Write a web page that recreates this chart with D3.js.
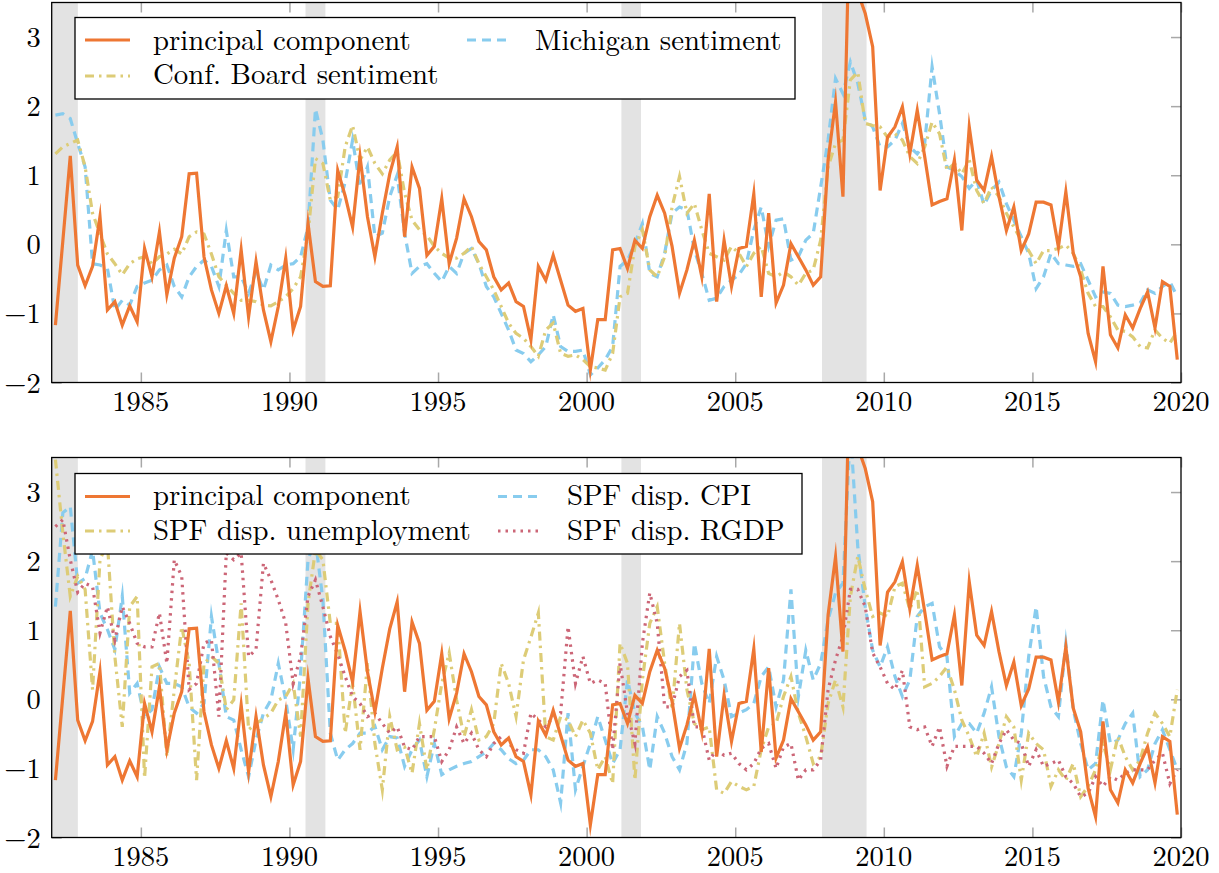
<!DOCTYPE html>
<html>
<head>
<meta charset="utf-8">
<script src="https://cdn.jsdelivr.net/npm/d3@7"></script>
<style>
  body { margin: 0; background: #fff; }
</style>
</head>
<body>
<div id="chart"></div>
<script>
// DATA #####################################################
// quarterly, 1982Q1 .. 2019Q4 (152 quarters)
const firstYear = 1982;
const nQuarters = 152;

const principal = [
  -1.17, 0.05, 1.28, -0.30, -0.60, -0.32, 0.40, -0.95, -0.83, -1.17,
  -0.89, -1.12, -0.06, -0.47, 0.18, -0.73, -0.20, 0.11, 1.02, 1.03,
  -0.18, -0.66, -1.00, -0.60, -1.00, -0.08, -1.05, -0.25, -0.95, -1.41,
  -0.90, -0.20, -1.24, -0.90, 0.30, -0.54, -0.61, -0.60, 1.07, 0.70,
  0.25, 1.27, 0.40, -0.18, 0.45, 1.02, 1.41, 0.11, 1.12, 0.81,
  -0.16, -0.03, 0.66, -0.28, 0.09, 0.66, 0.40, 0.04, -0.08, -0.47,
  -0.66, -0.56, -0.83, -0.90, -1.38, -0.32, -0.52, -0.16, -0.52, -0.88,
  -0.97, -0.93, -1.82, -1.09, -1.09, -0.08, -0.06, -0.35, 0.06, -0.06,
  0.40, 0.71, 0.45, -0.03, -0.71, -0.37, 0.06, -0.47, 0.73, -0.83,
  0.06, -0.61, -0.06, -0.03, 0.73, -0.76, 0.45, -0.85, -0.59, 0.01,
  -0.18, -0.37, -0.59, -0.47, 1.22, 2.06, 0.69, 5.20, 3.65, 3.34,
  2.86, 0.78, 1.55, 1.70, 1.99, 1.31, 1.94, 1.27, 0.57, 0.62,
  0.66, 1.22, 0.20, 1.70, 0.93, 0.78, 1.27, 0.69, 0.20, 0.54,
  -0.09, 0.15, 0.61, 0.61, 0.57, -0.04, 0.76, -0.13, -0.47, -1.29,
  -1.70, -0.32, -1.31, -1.50, -1.02, -1.21, -0.93, -0.69, -1.21, -0.54,
  -0.61, -1.67
];

const michigan = [
  1.87, 1.89, 1.82, 1.46, 1.12, -0.28, -0.30, -0.35, -0.95, -0.81,
  -0.88, -0.61, -0.56, -0.52, -0.37, -0.30, -0.61, -0.76, -0.47, -0.32,
  -0.23, -0.32, -0.61, 0.20, -0.47, -0.47, -0.71, -0.40, -0.66, -0.30,
  -0.37, -0.30, -0.28, -0.18, 0.25, 1.96, 1.51, 0.64, 0.50, 0.90,
  1.51, 0.83, 1.12, 0.11, 0.16, 0.69, 1.00, 0.16, -0.42, -0.32,
  -0.28, -0.42, -0.54, -0.32, -0.42, -0.13, -0.06, -0.28, -0.61, -0.76,
  -1.00, -1.24, -1.53, -1.58, -1.70, -1.60, -1.48, -1.02, -1.48, -1.55,
  -1.55, -1.53, -1.89, -1.79, -1.67, -1.48, -0.32, -0.23, 0.01, 0.30,
  -0.42, -0.47, -0.13, 0.45, 0.54, 0.50, -0.08, -0.42, -0.81, -0.78,
  -0.61, -0.52, -0.44, -0.28, 0.21, 0.54, -0.03, 0.35, 0.37, -0.23,
  -0.18, 0.06, 0.16, 0.83, 1.51, 2.40, 2.18, 2.64, 2.33, 1.80,
  1.70, 1.41, 1.41, 1.51, 1.75, 1.41, 1.31, 1.46, 2.57, 1.89,
  1.12, 1.07, 0.98, 0.81, 0.93, 0.57, 0.78, 0.90, 0.59, 0.35,
  0.11, -0.13, -0.64, -0.47, -0.13, -0.28, -0.30, -0.32, -0.28, -0.52,
  -0.76, -0.69, -0.71, -0.88, -0.90, -0.88, -0.85, -0.66, -0.71, -0.61,
  -0.54, -0.76
];

const confBoard = [
  1.31, 1.41, 1.46, 1.51, 1.12, 0.45, 0.15, -0.14, -0.28, -0.44,
  -0.28, -0.21, -0.18, -0.28, -0.18, -0.14, -0.07, -0.14, 0.11, 0.18,
  0.15, -0.14, -0.47, -0.59, -0.71, -0.81, -0.81, -0.83, -0.88, -0.89,
  -0.83, -0.76, -0.64, -0.47, 0.15, 1.24, 1.17, 0.64, 0.69, 1.41,
  1.72, 1.22, 1.41, 1.17, 1.02, 1.22, 1.34, 0.74, 0.35, 0.21,
  0.13, -0.03, -0.13, -0.20, -0.20, -0.13, -0.03, -0.28, -0.47, -0.66,
  -0.90, -1.14, -1.29, -1.36, -1.48, -1.62, -1.24, -1.14, -1.58, -1.62,
  -1.60, -1.67, -1.77, -1.79, -1.82, -1.58, -0.76, -0.71, -0.03, 0.21,
  -0.37, -0.47, -0.18, 0.54, 0.98, 0.45, 0.59, 0.21, -0.13, -0.18,
  -0.23, -0.03, -0.13, -0.32, -0.13, -0.03, -0.42, -0.47, -0.40, -0.47,
  -0.59, -0.42, -0.37, 0.06, 1.12, 1.46, 1.51, 2.38, 2.49, 1.75,
  1.72, 1.70, 1.55, 1.60, 1.51, 1.27, 1.17, 1.41, 1.77, 1.60,
  1.07, 1.17, 1.02, 1.22, 0.78, 0.59, 0.83, 0.69, 0.45, 0.25,
  0.06, -0.09, -0.28, -0.09, -0.09, -0.06, -0.01, -0.13, -0.37, -0.71,
  -0.90, -0.90, -1.05, -1.24, -1.26, -1.34, -1.48, -1.50, -1.24, -1.36,
  -1.43, -1.26
];

const spfCPI = [
  1.34, 2.70, 2.79, 1.68, 1.75, 2.16, 1.25, 1.01, 0.72, 1.49,
  0.09, 0.23, -0.25, -0.15, 0.47, 0.23, 0.23, 0.18, -0.11, -0.20,
  -0.06, 1.20, 0.52, -0.25, -0.30, -0.73, -1.12, -0.59, -0.20, -0.01,
  0.52, -0.01, -0.73, 0.38, 2.02, 2.30, 1.44, -0.49, -0.88, -0.73,
  -0.64, -0.49, -0.49, -0.39, -0.73, -0.54, -0.56, -0.97, -0.73, -0.59,
  -1.12, -0.64, -1.09, -1.02, -0.97, -0.93, -0.90, -0.83, -0.76, -0.64,
  -0.73, -0.86, -0.93, -0.88, -0.73, -0.73, -0.83, -1.02, -1.50, -0.20,
  -1.31, -0.97, -0.64, -0.25, -0.59, -0.93, -0.73, 0.28, -0.20, -0.39,
  -1.02, -0.25, -0.49, -0.83, -1.02, -0.64, 0.81, 0.23, -0.06, 0.62,
  0.28, -0.25, -0.20, -0.15, -0.06, 0.33, 0.47, -0.11, 0.28, 1.59,
  0.04, 0.71, 0.28, 0.52, 1.15, 1.54, 1.68, 3.90, 2.20, 1.34,
  0.71, 0.47, 0.76, 0.33, 0.04, 0.28, 1.20, 1.34, 1.39, 0.76,
  0.62, -0.54, -0.35, -0.35, -0.49, -0.20, 0.18, -0.54, -0.98, -1.12,
  -0.49, 0.62, 1.34, 0.33, -0.11, -0.25, 0.81, -0.15, -0.64, -1.02,
  -0.93, -0.01, -0.64, -0.59, -0.35, -0.20, -1.12, -1.02, -0.64, -0.44,
  -0.73, -1.02
];

const spfUnemp = [
  3.47, 2.41, 1.49, 1.78, 1.59, 0.14, 2.02, 2.26, 0.62, -0.40,
  1.34, 1.49, -1.14, 0.47, 0.52, -0.83, 0.14, 1.05, 0.52, -1.17,
  0.52, 0.62, 0.52, -0.15, -0.01, 1.39, -0.44, -0.35, -0.28, -0.20,
  -0.01, 0.04, 0.23, -0.54, 1.39, 2.16, 2.02, 1.10, 1.10, -0.49,
  0.23, -0.73, 0.52, -0.64, -1.31, -0.25, -0.73, -0.69, -1.07, -0.35,
  -1.02, -0.44, 0.23, 0.67, -0.01, -0.54, -0.15, -0.59, -0.54, -0.35,
  0.52, 0.23, -0.25, 0.57, 0.90, 1.25, -0.54, -0.59, -0.25, -0.30,
  -0.54, -0.30, -0.49, -1.02, -0.83, -1.22, 0.81, 0.52, -1.17, 0.28,
  1.10, 1.34, 0.52, -0.15, 1.10, 0.14, -0.35, -0.44, -0.40, -1.31,
  -1.36, -1.19, -1.26, -1.31, -1.26, -0.73, -0.40, -0.35, 0.04, 0.33,
  -0.20, -0.54, -0.93, -0.83, -0.06, 0.28, -0.11, 1.49, 2.07, 1.59,
  1.20, 1.25, 1.20, 1.63, 1.68, 1.30, 1.59, 0.18, 0.23, 0.33,
  0.47, 0.14, -0.30, -0.54, -0.83, -0.49, -0.98, -0.64, -0.25, -0.40,
  -1.17, -0.49, -0.64, -0.73, -1.26, -1.02, -1.17, -0.93, -1.41, -1.26,
  -1.02, -0.64, -1.02, -0.54, -0.83, -1.02, -0.88, -0.49, -0.20, -0.35,
  -0.54, 0.14
];

const spfRGDP = [
  2.50, 2.60, 2.02, 1.55, 1.68, 1.63, 0.96, 1.34, 0.86, 1.34,
  1.10, 0.81, 0.76, 0.76, 1.25, 0.52, 2.02, 1.78, 0.14, 0.23,
  0.81, 0.86, -0.25, 2.12, 2.02, 2.12, 0.62, 0.72, 1.97, 1.73,
  1.44, 1.10, 0.23, 0.62, 1.49, 1.73, 1.34, 0.91, 0.65, 0.33,
  0.04, -0.06, -0.25, -0.20, -0.35, -0.49, -0.40, -0.69, -0.73, -0.54,
  -0.54, -0.54, -0.90, -0.73, -0.40, -0.64, -0.49, -0.73, -0.83, -0.64,
  -0.54, -0.64, -0.73, -0.78, -0.20, -0.30, -0.40, -0.25, -0.20, 1.05,
  0.23, 0.62, 0.23, 0.28, 0.23, -0.73, 0.52, -0.20, -0.64, 0.81,
  1.54, 1.10, -0.11, -0.11, 0.33, 0.42, -0.40, -0.40, -0.88, -0.73,
  -0.81, -0.78, -0.93, -1.02, -0.93, -0.71, -0.64, -1.00, -0.69, -0.64,
  -1.17, -1.02, -1.02, -0.88, 0.14, 0.57, 0.91, 1.59, 1.59, 1.34,
  0.67, 0.47, 0.23, 0.14, 0.42, -0.40, -0.44, -0.40, -0.68, -0.40,
  -0.97, -0.68, -0.68, -0.68, -0.68, -0.78, -0.93, -0.64, -0.44, -0.59,
  -0.64, -0.97, -0.73, -0.97, -0.93, -0.88, -1.12, -1.22, -1.41, -1.36,
  -1.12, -1.26, -1.12, -1.17, -1.07, -1.02, -1.02, -1.02, -0.88, -0.78,
  -1.22, -1.02
];

// NBER recessions (start, end) in decimal years
const recessions = [[1981.5, 1982.88], [1990.54, 1991.21], [2001.17, 2001.83], [2007.92, 2009.42]];

const yearTicks = [1985, 1990, 1995, 2000, 2005, 2010, 2015, 2020];
const valueTicks = [-2, -1, 0, 1, 2, 3];

// CONSTANTS ################################################
const width = 1219;
const height = 873;
const left = 51.7;
const right = 1181;
const serif = '"Latin Modern Roman", "Liberation Serif", serif';

const colors = {
  principal: "#EE7733",
  blue: "#88CCEE",
  sand: "#DDCC77",
  rose: "#CC6677"
};

const styles = {
  solid:   { color: colors.principal, dash: null, w: 3.2 },
  dashed:  { color: colors.blue, dash: "9,6", w: 3.2 },
  dashdot: { color: colors.sand, dash: "9,5,2.5,5", w: 3.2 },
  dotted:  { color: colors.rose, dash: "2.5,5", w: 3.2 }
};

const quarters = d3.range(nQuarters).map(i => firstYear + (i + 0.5) / 4);

[principal, michigan, confBoard, spfCPI, spfUnemp, spfRGDP].forEach(a => {
  if (a.length !== nQuarters) throw new Error("bad length " + a.length);
});

const panels = [
  {
    top: 2.5, bottom: 382.5,
    series: [
      { values: michigan, style: "dashed" },
      { values: confBoard, style: "dashdot" },
      { values: principal, style: "solid" }
    ],
    legend: {
      x: 75, y: 17.5, w: 720, h: 81.5,
      rows: [{ y: 40, base: 50 }, { y: 76, base: 84 }],
      cols: [{ x: 85, tx: 153 }, { x: 467, tx: 535 }],
      items: [
        { label: "principal component", style: "solid", row: 0, col: 0 },
        { label: "Michigan sentiment", style: "dashed", row: 0, col: 1 },
        { label: "Conf. Board sentiment", style: "dashdot", row: 1, col: 0 }
      ]
    }
  },
  {
    top: 457.5, bottom: 837.5,
    series: [
      { values: spfCPI, style: "dashed" },
      { values: spfUnemp, style: "dashdot" },
      { values: spfRGDP, style: "dotted" },
      { values: principal, style: "solid" }
    ],
    legend: {
      x: 75, y: 473.5, w: 727, h: 80.5,
      rows: [{ y: 496.5, base: 505 }, { y: 531, base: 539.5 }],
      cols: [{ x: 85, tx: 153 }, { x: 498, tx: 567 }],
      items: [
        { label: "principal component", style: "solid", row: 0, col: 0 },
        { label: "SPF disp. CPI", style: "dashed", row: 0, col: 1 },
        { label: "SPF disp. unemployment", style: "dashdot", row: 1, col: 0 },
        { label: "SPF disp. RGDP", style: "dotted", row: 1, col: 1 }
      ]
    }
  }
];

// SVG ######################################################
const svg = d3.select("#chart")
  .append("svg")
  .attr("width", width)
  .attr("height", height);

const xScale = d3.scaleLinear()
  .domain([1982, 2020])
  .range([left, right]);

panels.forEach((p, k) => {
  const yScale = d3.scaleLinear()
    .domain([-2, 3.5])
    .range([p.bottom, p.top]);

  const g = svg.append("g");

  // clip for the plot area
  svg.append("clipPath")
    .attr("id", "clip" + k)
    .append("rect")
    .attr("x", left).attr("y", p.top)
    .attr("width", right - left).attr("height", p.bottom - p.top);

  // ticks (drawn first, inward, grey) --------------------------------
  const tickLen = 10;
  const tickColor = "#a8a8a8";
  const styleTicks = a => {
    a.select(".domain").remove();
    a.selectAll("line").attr("stroke", tickColor).attr("stroke-width", 1.5);
  };
  g.append("g")
    .attr("transform", `translate(0,${p.bottom})`)
    .call(d3.axisTop(xScale).tickValues(yearTicks).tickSize(tickLen).tickFormat(""))
    .call(styleTicks);
  g.append("g")
    .attr("transform", `translate(0,${p.top})`)
    .call(d3.axisBottom(xScale).tickValues(yearTicks).tickSize(tickLen).tickFormat(""))
    .call(styleTicks);
  g.append("g")
    .attr("transform", `translate(${left},0)`)
    .call(d3.axisRight(yScale).tickValues(valueTicks).tickSize(tickLen).tickFormat(""))
    .call(styleTicks);
  g.append("g")
    .attr("transform", `translate(${right},0)`)
    .call(d3.axisLeft(yScale).tickValues(valueTicks).tickSize(tickLen).tickFormat(""))
    .call(styleTicks);

  // recession shading ------------------------------------------------
  g.append("g")
    .attr("clip-path", `url(#clip${k})`)
    .selectAll("rect")
    .data(recessions)
    .join("rect")
    .attr("x", d => xScale(d[0]))
    .attr("width", d => xScale(d[1]) - xScale(d[0]))
    .attr("y", p.top)
    .attr("height", p.bottom - p.top)
    .attr("fill", "#e3e3e3");

  // lines -------------------------------------------------------------
  const line = d3.line()
    .x((d, i) => xScale(quarters[i]))
    .y(d => yScale(d));

  g.append("g")
    .attr("clip-path", `url(#clip${k})`)
    .selectAll("path")
    .data(p.series)
    .join("path")
    .attr("d", d => line(d.values))
    .attr("fill", "none")
    .attr("stroke", d => styles[d.style].color)
    .attr("stroke-width", d => styles[d.style].w)
    .attr("stroke-dasharray", d => styles[d.style].dash)
    .attr("stroke-linejoin", "miter")
    .attr("stroke-miterlimit", 10);

  // frame ---------------------------------------------------------------
  g.append("rect")
    .attr("x", left).attr("y", p.top)
    .attr("width", right - left).attr("height", p.bottom - p.top)
    .attr("fill", "none")
    .attr("stroke", "#000")
    .attr("stroke-width", 1.3);

  // tick labels -----------------------------------------------------------
  g.selectAll("text.xl")
    .data(yearTicks)
    .join("text")
    .attr("class", "xl")
    .attr("x", d => xScale(d))
    .attr("y", p.bottom + 28.5)
    .attr("text-anchor", "middle")
    .style("font-family", serif)
    .style("font-size", "28.5px")
    .text(d => d);

  g.selectAll("text.yl")
    .data(valueTicks)
    .join("text")
    .attr("class", "yl")
    .attr("x", left - 11)
    .attr("y", d => yScale(d) + 10)
    .attr("text-anchor", "end")
    .style("font-family", serif)
    .style("font-size", "28.5px")
    .text(d => d < 0 ? "\u2212" + Math.abs(d) : d);

  // legend --------------------------------------------------------------
  const L = p.legend;
  const lg = g.append("g");
  lg.append("rect")
    .attr("x", L.x).attr("y", L.y)
    .attr("width", L.w).attr("height", L.h)
    .attr("fill", "#fff")
    .attr("stroke", "#000")
    .attr("stroke-width", 1.3);

  L.items.forEach(it => {
    const s = styles[it.style];
    const c = L.cols[it.col];
    const r = L.rows[it.row];
    lg.append("line")
      .attr("x1", c.x).attr("x2", c.x + 45)
      .attr("y1", r.y).attr("y2", r.y)
      .attr("stroke", s.color)
      .attr("stroke-width", s.w)
      .attr("stroke-dasharray", s.dash);
    lg.append("text")
      .attr("x", c.tx)
      .attr("y", r.base)
      .style("font-family", serif)
      .style("font-size", "28.8px")
      .text(it.label);
  });
});
</script>
</body>
</html>
